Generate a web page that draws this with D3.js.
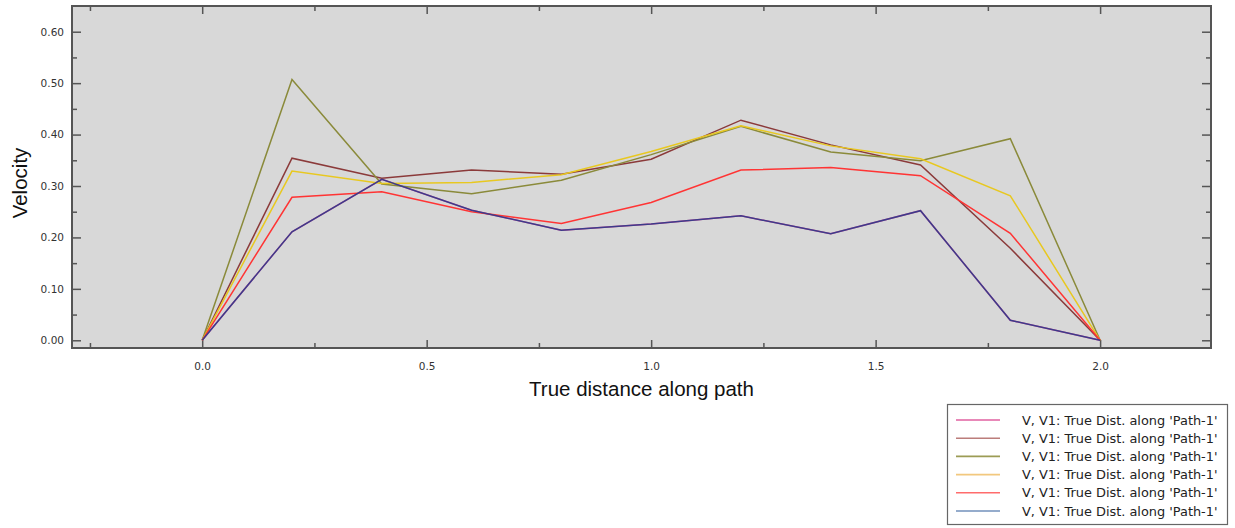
<!DOCTYPE html>
<html>
<head>
<meta charset="utf-8">
<script src="https://cdn.jsdelivr.net/npm/d3@7"></script>
<style>
  html, body { margin: 0; padding: 0; background: #ffffff; }
  svg { display: block; }
  .tick text { font-family: "DejaVu Sans", Verdana, sans-serif; font-size: 10.5px; fill: #333; }
</style>
</head>
<body>
<svg id="chart" width="1235" height="528"></svg>
<script>
// Distance along the path (sample stations)
const distance = [0.0, 0.2, 0.4, 0.6, 0.8, 1.0, 1.2, 1.4, 1.6, 1.8, 2.0];

// Velocity profiles, one per curve
const velPink   = [0, 0.211, 0.313, 0.253, 0.214, 0.226, 0.242, 0.207, 0.252, 0.039, 0];
const velBrown  = [0, 0.354, 0.315, 0.331, 0.323, 0.352, 0.428, 0.380, 0.341, 0.179, 0];
const velOlive  = [0, 0.507, 0.304, 0.285, 0.311, 0.361, 0.416, 0.366, 0.349, 0.392, 0];
const velYellow = [0, 0.329, 0.305, 0.307, 0.322, 0.367, 0.417, 0.378, 0.353, 0.281, 0];
const velRed    = [0, 0.278, 0.289, 0.250, 0.227, 0.268, 0.331, 0.336, 0.320, 0.208, 0];
const velBlue   = [0, 0.211, 0.313, 0.253, 0.214, 0.226, 0.242, 0.207, 0.252, 0.039, 0];

const seriesLabels = [
  "V, V1: True Dist. along 'Path-1'",
  "V, V1: True Dist. along 'Path-1'",
  "V, V1: True Dist. along 'Path-1'",
  "V, V1: True Dist. along 'Path-1'",
  "V, V1: True Dist. along 'Path-1'",
  "V, V1: True Dist. along 'Path-1'"
];

const xMajorTicks = [0.0, 0.5, 1.0, 1.5, 2.0];
const xMinorTicks = [-0.25, 0.25, 0.75, 1.25, 1.75];
const yMajorTicks = [0.0, 0.1, 0.2, 0.3, 0.4, 0.5, 0.6];
const yMinorTicks = [0.05, 0.15, 0.25, 0.35, 0.45, 0.55];

const xTitle = "True distance along path";
const yTitle = "Velocity";

// Curve styles
const lineColors   = ["#e0509a", "#8b3a3a", "#8a8a3a", "#e8c820", "#ff3434", "#3c3c8a"];
const legendColors = ["#e060a0", "#bb7d7b", "#9c9c55", "#f2c87e", "#ff6c6c", "#7290bb"];

const allSeries = [velPink, velBrown, velOlive, velYellow, velRed, velBlue];

const svg = d3.select("#chart");
const plot = { left: 72, top: 6, right: 1211, bottom: 348 };

const x = d3.scaleLinear().domain([-0.29, 2.247]).range([plot.left, plot.right]);
const y = d3.scaleLinear().domain([-0.015, 0.65]).range([plot.bottom, plot.top]);

const frameColor = "#555555";

// Plot background
svg.append("rect")
  .attr("x", plot.left).attr("y", plot.top)
  .attr("width", plot.right - plot.left).attr("height", plot.bottom - plot.top)
  .attr("fill", "#d8d8d8");

function styleAxis(g) {
  g.select(".domain").remove();
  g.selectAll(".tick line").attr("stroke", frameColor).attr("stroke-width", 1.5);
}

// Left axis (labels + inward ticks)
svg.append("g").attr("transform", `translate(${plot.left},0)`)
  .call(d3.axisLeft(y).tickValues(yMajorTicks).tickSize(-9).tickPadding(8).tickFormat(d3.format(".2f")))
  .call(styleAxis);
svg.append("g").attr("transform", `translate(${plot.left},0)`)
  .call(d3.axisLeft(y).tickValues(yMinorTicks).tickSize(-5).tickFormat(""))
  .call(styleAxis);

// Right axis (ticks only)
svg.append("g").attr("transform", `translate(${plot.right},0)`)
  .call(d3.axisRight(y).tickValues(yMajorTicks).tickSize(-9).tickFormat(""))
  .call(styleAxis);
svg.append("g").attr("transform", `translate(${plot.right},0)`)
  .call(d3.axisRight(y).tickValues(yMinorTicks).tickSize(-5).tickFormat(""))
  .call(styleAxis);

// Bottom axis
svg.append("g").attr("transform", `translate(0,${plot.bottom})`)
  .call(d3.axisBottom(x).tickValues(xMajorTicks).tickSize(-8).tickPadding(15).tickFormat(d3.format(".1f")))
  .call(styleAxis);
svg.append("g").attr("transform", `translate(0,${plot.bottom})`)
  .call(d3.axisBottom(x).tickValues(xMinorTicks).tickSize(-5).tickFormat(""))
  .call(styleAxis);

// Top axis (ticks only)
svg.append("g").attr("transform", `translate(0,${plot.top})`)
  .call(d3.axisTop(x).tickValues(xMajorTicks).tickSize(-8).tickFormat(""))
  .call(styleAxis);
svg.append("g").attr("transform", `translate(0,${plot.top})`)
  .call(d3.axisTop(x).tickValues(xMinorTicks).tickSize(-5).tickFormat(""))
  .call(styleAxis);

// Curves
const line = d3.line()
  .x((d, i) => x(distance[i]))
  .y(d => y(d));

svg.append("g").selectAll("path")
  .data(allSeries)
  .join("path")
  .attr("d", d => line(d))
  .attr("fill", "none")
  .attr("stroke", (d, i) => lineColors[i])
  .attr("stroke-width", 1.5)
  .attr("stroke-linejoin", "miter");

// Frame
svg.append("rect")
  .attr("x", plot.left).attr("y", plot.top)
  .attr("width", plot.right - plot.left).attr("height", plot.bottom - plot.top)
  .attr("fill", "none").attr("stroke", frameColor).attr("stroke-width", 2);

// Axis titles
svg.append("text")
  .attr("x", (plot.left + plot.right) / 2).attr("y", 396)
  .attr("text-anchor", "middle")
  .attr("font-family", "'Liberation Sans', Arial, sans-serif")
  .attr("font-size", 20.5).attr("fill", "#111")
  .text(xTitle);

svg.append("text")
  .attr("transform", "translate(27,183) rotate(-90)")
  .attr("text-anchor", "middle")
  .attr("font-family", "'Liberation Sans', Arial, sans-serif")
  .attr("font-size", 20.5).attr("fill", "#111")
  .text(yTitle);

// Legend
const legend = svg.append("g");
legend.append("rect")
  .attr("x", 947.5).attr("y", 404.5).attr("width", 280).attr("height", 120)
  .attr("fill", "#ffffff").attr("stroke", "#666").attr("stroke-width", 1.2);

const rows = legend.selectAll("g.row")
  .data(seriesLabels)
  .join("g")
  .attr("class", "row")
  .attr("transform", (d, i) => `translate(0,${420 + i * 18.2})`);

rows.append("line")
  .attr("x1", 956).attr("x2", 1000).attr("y1", 0).attr("y2", 0)
  .attr("stroke", (d, i) => legendColors[i]).attr("stroke-width", 1.6);

rows.append("text")
  .attr("x", 1022).attr("y", 0).attr("dy", "0.35em")
  .attr("font-family", "'DejaVu Sans', Verdana, sans-serif")
  .attr("font-size", 12.9).attr("fill", "#222")
  .text(d => d);
</script>
</body>
</html>
